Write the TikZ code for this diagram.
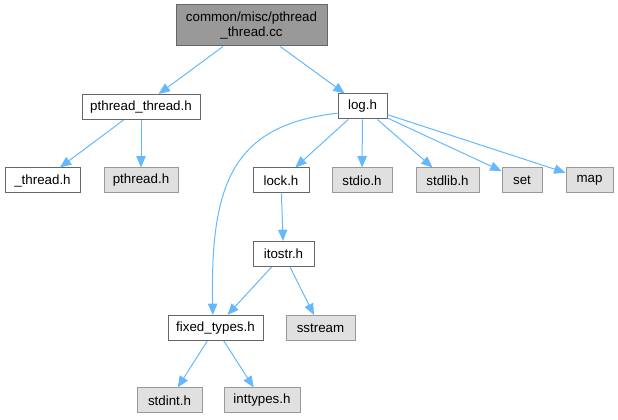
\documentclass[tikz,border=0pt]{standalone}
\usepackage{fontspec}
\setmainfont{Liberation Sans}
\usepackage{xcolor}
\usepackage{tikz}
\usetikzlibrary{arrows.meta}

\definecolor{edgeblue}{HTML}{63B8FF}
\definecolor{boxgrey}{HTML}{666666}
\definecolor{sysgrey}{HTML}{999999}
\definecolor{sysfill}{HTML}{E0E0E0}

\begin{document}
\begin{tikzpicture}[
  x=0.75pt, y=-0.75pt,
  font=\fontsize{10}{11.5}\selectfont,
  block/.style={rectangle, draw=boxgrey, line width=0.75pt, fill=white, minimum height=18.75pt, inner sep=0pt, align=center},
  sys/.style={block, draw=sysgrey, fill=sysfill},
  line/.style={-{Triangle[length=8.5pt, width=7pt]}, draw=edgeblue, line width=0.75pt}
]
\useasboundingbox (0,0) rectangle (618,420);

\node[block, fill=sysgrey, minimum width=113.25pt, minimum height=30.75pt] (src) at (251.5,25.5) {common/misc/pthread\\\_thread.cc};
\node[block, minimum width=88.5pt] (pth) at (141,107) {pthread\_thread.h};
\node[block, minimum width=36.75pt] (log) at (362.5,106.5) {log.h};
\node[block, minimum width=56.25pt] (thr) at (42.5,180.5) {\_thread.h};
\node[sys, minimum width=55.5pt] (pthsys) at (141,180.5) {pthread.h};
\node[block, minimum width=42pt] (lock) at (281,180.5) {lock.h};
\node[sys, minimum width=45pt] (stdio) at (362,180.5) {stdio.h};
\node[sys, minimum width=47.25pt] (stdlib) at (447.5,180.5) {stdlib.h};
\node[sys, minimum width=30pt] (set) at (522,180.5) {set};
\node[sys, minimum width=35.25pt] (map) at (589.5,180.5) {map};
\node[block, minimum width=45.75pt] (itostr) at (283.5,254) {itostr.h};
\node[block, minimum width=71.25pt] (fixed) at (215.5,328) {fixed\_types.h};
\node[sys, minimum width=51.75pt] (sstream) at (320.5,328) {sstream};
\node[sys, minimum width=48.75pt] (stdint) at (169.5,400.5) {stdint.h};
\node[sys, minimum width=57pt] (inttypes) at (262,400.5) {inttypes.h};

\draw[line] (src) -- (pth);
\draw[line] (src) -- (log);
\draw[line] (pth) -- (thr);
\draw[line] (pth) -- (pthsys);
\draw[line] ([yshift=-5pt]log.west) .. controls (235,125) and (210,180) .. ([xshift=-2pt]fixed.north);
\draw[line] (log) -- (lock);
\draw[line] (log) -- (stdio);
\draw[line] (log) -- (stdlib);
\draw[line] (log) -- (set);
\draw[line] (log) -- (map);
\draw[line] (lock) -- (itostr);
\draw[line] (itostr) -- (fixed);
\draw[line] (itostr) -- (sstream);
\draw[line] (fixed) -- (stdint);
\draw[line] (fixed) -- (inttypes);
\end{tikzpicture}
\end{document}
